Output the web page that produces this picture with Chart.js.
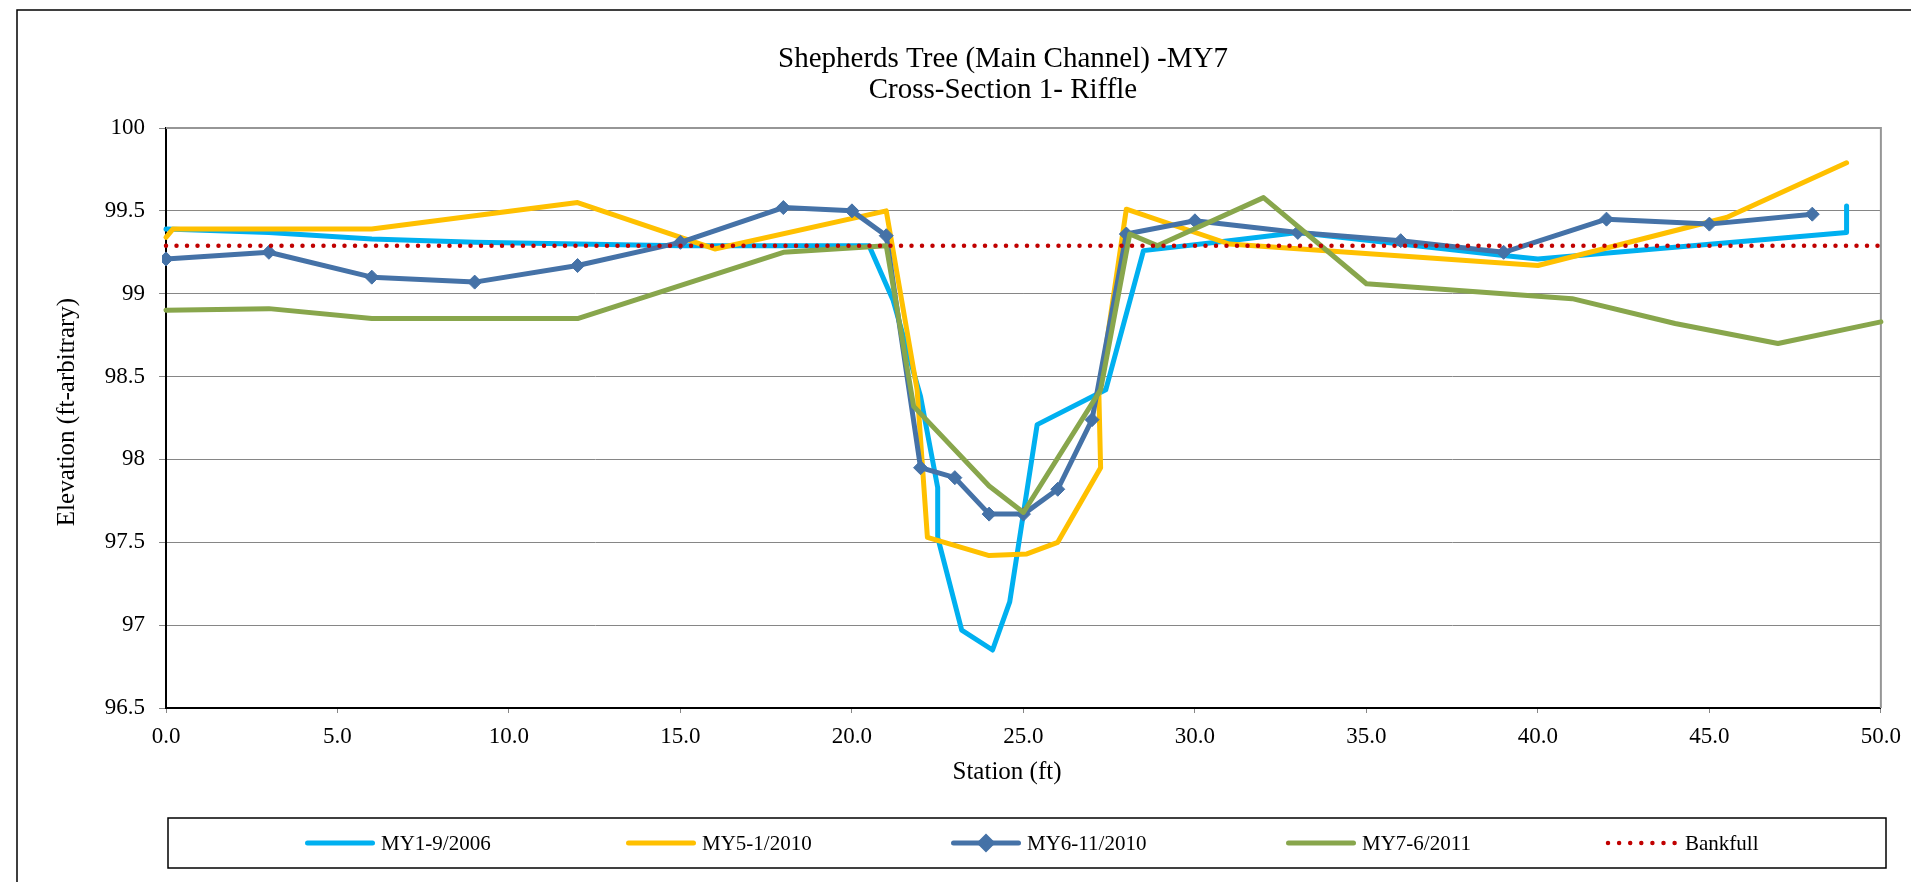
<!DOCTYPE html>
<html>
<head>
<meta charset="utf-8">
<title>Shepherds Tree (Main Channel) -MY7</title>
<script src="https://cdn.jsdelivr.net/npm/chart.js@4.4.1/dist/chart.umd.min.js"></script>
<style>
  html, body { margin: 0; padding: 0; background: #fff; }
  #wrap { width: 1911px; height: 882px; }
</style>
</head>
<body>
<div id="wrap"><canvas id="xsChart" width="1911" height="882"></canvas></div>
<script>
// Cross-section survey: station (ft) vs elevation (ft-arbitrary)
const my1Station = [0, 3, 6, 9, 12, 15, 20.5, 21.2, 22.0, 22.5, 22.5, 23.2, 24.1, 24.6, 25.4, 27.4, 28.5, 31.0, 33.0, 39.0, 40.0, 49.0, 49.0];
const my1Elev    = [99.39, 99.37, 99.33, 99.31, 99.30, 99.29, 99.29, 98.96, 98.38, 97.83, 97.53, 96.97, 96.85, 97.14, 98.21, 98.42, 99.26, 99.32, 99.37, 99.23, 99.21, 99.37, 99.53];

const my5Station = [0, 0.2, 6, 12, 16, 21, 21.9, 22.2, 24.0, 25.1, 26.0, 27.25, 27.2, 28.0, 31.0, 40.0, 45.5, 49.0];
const my5Elev    = [99.34, 99.39, 99.39, 99.55, 99.27, 99.50, 98.42, 97.53, 97.42, 97.43, 97.50, 97.95, 98.39, 99.51, 99.30, 99.17, 99.46, 99.79];

const my6Station = [0, 3, 6, 9, 12, 15, 18, 20, 21, 22, 23, 24, 25, 26, 27, 28, 30, 33, 36, 39, 42, 45, 48];
const my6Elev    = [99.21, 99.25, 99.10, 99.07, 99.17, 99.31, 99.52, 99.50, 99.35, 97.95, 97.89, 97.67, 97.67, 97.82, 98.24, 99.36, 99.44, 99.37, 99.32, 99.25, 99.45, 99.42, 99.48];

const my7Station = [0, 3, 6, 12, 18, 21, 21.8, 24, 25, 27.25, 28.1, 28.9, 32, 35, 41, 44, 47, 50];
const my7Elev    = [98.90, 98.91, 98.85, 98.85, 99.25, 99.29, 98.32, 97.84, 97.68, 98.42, 99.36, 99.29, 99.58, 99.06, 98.97, 98.82, 98.70, 98.83];

const bankfullStation = [0, 50];
const bankfullElev    = [99.29, 99.29];

const seriesNames = ['MY1-9/2006', 'MY5-1/2010', 'MY6-11/2010', 'MY7-6/2011', 'Bankfull'];
const stationTicks = [0, 5, 10, 15, 20, 25, 30, 35, 40, 45, 50];
const elevationTicks = [96.5, 97, 97.5, 98, 98.5, 99, 99.5, 100];

const SERIF = "'Liberation Serif', 'Times New Roman', serif";
const pts = (xs, ys) => xs.map((x, i) => ({ x: x, y: ys[i] }));

// frame, plot border, titles and the boxed legend (Excel style)
const excelFrame = {
  id: 'excelFrame',
  beforeDraw(chart) {
    const ctx = chart.ctx;
    ctx.save();
    ctx.fillStyle = '#fff';
    ctx.fillRect(0, 0, chart.width, chart.height);
    ctx.strokeStyle = '#000';
    ctx.lineWidth = 1.5;
    ctx.beginPath();
    ctx.moveTo(17, chart.height);
    ctx.lineTo(17, 10);
    ctx.lineTo(chart.width, 10);
    ctx.stroke();
    ctx.restore();
  },
  beforeDatasetsDraw(chart) {
    const { ctx, chartArea: a } = chart;
    ctx.save();
    ctx.strokeStyle = '#969696';
    ctx.lineWidth = 2;
    ctx.beginPath();
    ctx.moveTo(a.left, a.top);
    ctx.lineTo(a.right, a.top);
    ctx.lineTo(a.right, a.bottom);
    ctx.stroke();
    ctx.restore();
  },
  afterDraw(chart) {
    const { ctx } = chart;
    ctx.save();
    ctx.fillStyle = '#000';
    ctx.textAlign = 'center';
    ctx.textBaseline = 'alphabetic';
    ctx.font = '29px ' + SERIF;
    ctx.fillText('Shepherds Tree (Main Channel) -MY7', 1003, 66.5);
    ctx.fillText('Cross-Section 1- Riffle', 1003, 98);

    ctx.font = '25px ' + SERIF;
    ctx.textBaseline = 'middle';
    ctx.fillText('Station (ft)', 1007, 772);
    ctx.save();
    ctx.translate(67, 412);
    ctx.rotate(-Math.PI / 2);
    ctx.fillText('Elevation (ft-arbitrary)', 0, 0);
    ctx.restore();

    // legend box
    ctx.strokeStyle = '#000';
    ctx.lineWidth = 1.5;
    ctx.strokeRect(168, 818, 1886 - 168, 50);
    const ly = 843;
    const starts = [305, 626, 951, 1286, 1608];
    ctx.font = '21px ' + SERIF;
    ctx.textAlign = 'left';
    chart.data.datasets.forEach((ds, i) => {
      const x0 = starts[i];
      ctx.save();
      ctx.strokeStyle = ds.borderColor;
      ctx.lineCap = 'round';
      let textX;
      if (ds.borderDash && ds.borderDash.length) {
        ctx.lineWidth = ds.borderWidth;
        ctx.setLineDash([0, 11.1]);
        ctx.beginPath();
        ctx.moveTo(x0, ly);
        ctx.lineTo(x0 + 67.5, ly);
        ctx.stroke();
        textX = x0 + 77;
      } else {
        ctx.lineWidth = 5;
        ctx.beginPath();
        ctx.moveTo(x0 + 2.5, ly);
        ctx.lineTo(x0 + 67.5, ly);
        ctx.stroke();
        if (ds.pointRadius > 0) {
          ctx.fillStyle = ds.pointBackgroundColor;
          Chart.helpers.drawPoint(ctx, { pointStyle: 'rectRot', radius: 6, borderWidth: 1 }, x0 + 35, ly);
        }
        textX = x0 + 76;
      }
      ctx.restore();
      ctx.fillStyle = '#000';
      ctx.fillText(ds.label, textX, ly + 1);
    });
    ctx.restore();
  }
};

const lineBase = {
  fill: false,
  tension: 0,
  borderWidth: 5,
  borderJoinStyle: 'round',
  borderCapStyle: 'round',
  pointRadius: 0,
  pointHoverRadius: 0,
  clip: 4
};

new Chart(document.getElementById('xsChart'), {
  type: 'line',
  data: {
    datasets: [
      Object.assign({}, lineBase, { label: seriesNames[0], data: pts(my1Station, my1Elev), borderColor: '#00B0F0', order: 5 }),
      Object.assign({}, lineBase, { label: seriesNames[1], data: pts(my5Station, my5Elev), borderColor: '#FFC000', order: 4 }),
      Object.assign({}, lineBase, {
        label: seriesNames[2], data: pts(my6Station, my6Elev), borderColor: '#4572A7', order: 3,
        pointStyle: 'rectRot', pointRadius: 7, pointBackgroundColor: '#4572A7', pointBorderColor: '#4572A7', pointBorderWidth: 1
      }),
      Object.assign({}, lineBase, { label: seriesNames[3], data: pts(my7Station, my7Elev), borderColor: '#88A64C', order: 2 }),
      Object.assign({}, lineBase, {
        label: seriesNames[4], data: pts(bankfullStation, bankfullElev), borderColor: '#C00000', order: 1,
        borderWidth: 4.5, borderDash: [0, 10.5]
      })
    ]
  },
  options: {
    responsive: false,
    animation: false,
    devicePixelRatio: 1,
    layout: { padding: { left: 0, right: 27, top: 128, bottom: 92 } },
    plugins: {
      legend: { display: false },
      title: { display: false },
      tooltip: { enabled: false }
    },
    scales: {
      x: {
        type: 'linear',
        min: 0,
        max: 50,
        afterBuildTicks: s => { s.ticks = stationTicks.map(v => ({ value: v })); },
        afterFit: s => { s.height = 82; },
        ticks: {
          callback: v => v.toFixed(1),
          color: '#000',
          font: { family: SERIF, size: 23 },
          padding: 10,
          maxRotation: 0,
          autoSkip: false
        },
        grid: { drawOnChartArea: false, drawTicks: true, tickLength: 5, color: '#868686' },
        border: { color: '#000', width: 2 }
      },
      y: {
        type: 'linear',
        min: 96.5,
        max: 100,
        afterBuildTicks: s => { s.ticks = elevationTicks.map(v => ({ value: v })); },
        afterFit: s => { s.width = 166; },
        ticks: {
          callback: v => String(v),
          color: '#000',
          font: { family: SERIF, size: 23 },
          padding: 14
        },
        grid: { color: '#868686', lineWidth: 1, tickLength: 7 },
        border: { color: '#000', width: 2 }
      }
    }
  },
  plugins: [excelFrame]
});
</script>
</body>
</html>
